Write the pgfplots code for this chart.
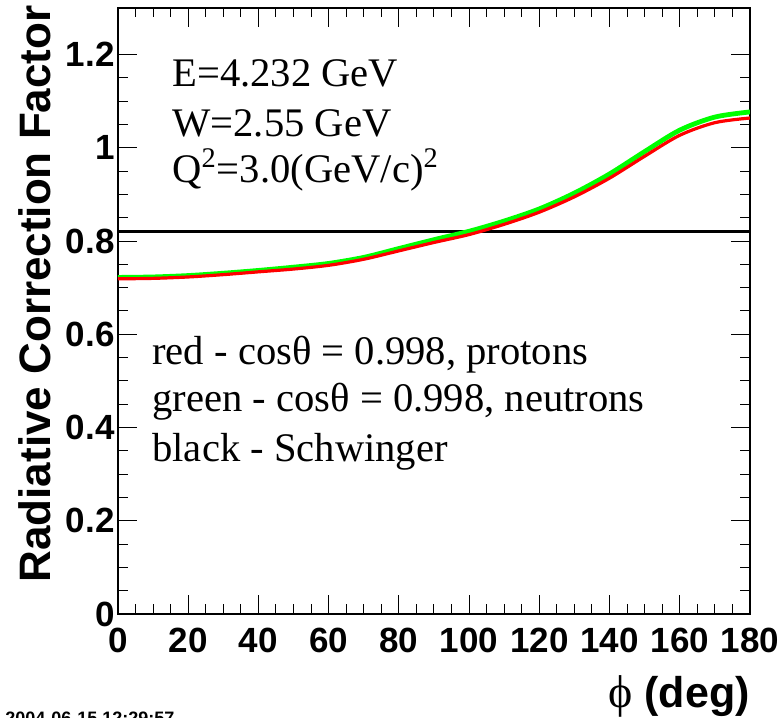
\documentclass[border=0pt]{standalone}
\usepackage{fontspec}
\setmainfont{Liberation Serif}
\newfontfamily\helv{Liberation Sans}
\usepackage{pgfplots}
\usepackage{pgfplotstable}
\pgfplotsset{compat=1.18}

\definecolor{rootred}{RGB}{255,0,0}
\definecolor{rootgreen}{RGB}{0,255,0}

% Radiative correction factor vs phi (protons: red, neutrons: green)
\pgfplotstableread{
phi   red    green
0     0.719  0.722
10    0.720  0.723
20    0.723  0.726
30    0.728  0.731
40    0.734  0.737
50    0.740  0.744
60    0.748  0.752
70    0.761  0.765
80    0.779  0.784
90    0.797  0.803
100   0.814  0.821
110   0.836  0.843
120   0.862  0.869
130   0.895  0.903
140   0.935  0.944
150   0.982  0.992
160   1.027  1.038
170   1.054  1.066
180   1.064  1.077
}\rcdata

\begin{document}
\begin{tikzpicture}[x=1pt,y=1pt]
\useasboundingbox (0,0) rectangle (392,359);
\begin{axis}[
  at={(59pt,52pt)}, anchor=south west,
  scale only axis, width=316pt, height=303pt,
  xmin=0, xmax=180, ymin=0, ymax=1.3,
  xtick={0,20,40,60,80,100,120,140,160,180},
  ytick={0,0.2,0.4,0.6,0.8,1,1.2},
  minor x tick num=3, minor y tick num=3,
  tick align=inside, xtick pos=both, ytick pos=both,
  major tick length=9.5pt, minor tick length=4.75pt,
  every tick/.style={black, line width=0.5pt},
  axis line style={line width=0.6pt},
  ticklabel style={font=\helv\bfseries\fontsize{17.5}{20}\selectfont},
  /pgf/number format/assume math mode=true,
  xticklabel style={inner sep=0pt, yshift=-7pt},
  yticklabel style={inner sep=0pt, xshift=-1.5pt},
]
\addplot[black, line width=1.6pt] coordinates {(0,0.82) (180,0.82)};
\addplot[rootgreen, line width=2.4pt, smooth] table[x=phi, y=green] {\rcdata};
\addplot[rootred, line width=1.6pt, smooth] table[x=phi, y=red] {\rcdata};
\end{axis}

% kinematics
\begin{scope}[every node/.style={anchor=base west, inner sep=0pt, font=\fontsize{20.3}{24}\selectfont}]
\node at (86,315.5) {E=4.232 GeV};
\node at (86,290.5) {W=2.55 GeV};
\node at (86,267.5) {Q\textsuperscript{2}=3.0(GeV/c)\textsuperscript{2}};
\node at (76,176.5) {red - cosθ = 0.998, protons};
\node at (76,153) {green - cosθ = 0.998, neutrons};
\node at (76,128) {black - Schwinger};
\end{scope}

% axis titles
\node[rotate=90, anchor=base east, inner sep=0pt, font=\helv\bfseries\fontsize{22}{26}\selectfont]
  at (25,356.5) {Radiative Correction Factor};
\node[anchor=base east, inner sep=0pt, font=\helv\bfseries\fontsize{21.5}{26}\selectfont]
  at (375,5) {{\rmfamily\mdseries\fontsize{23}{26}\selectfont ϕ} (deg)};

% date stamp
\node[anchor=base west, inner sep=0pt, font=\helv\bfseries\fontsize{9}{11}\selectfont]
  at (2.5,-3.5) {2004-06-15 12:29:57};
\end{tikzpicture}
\end{document}
